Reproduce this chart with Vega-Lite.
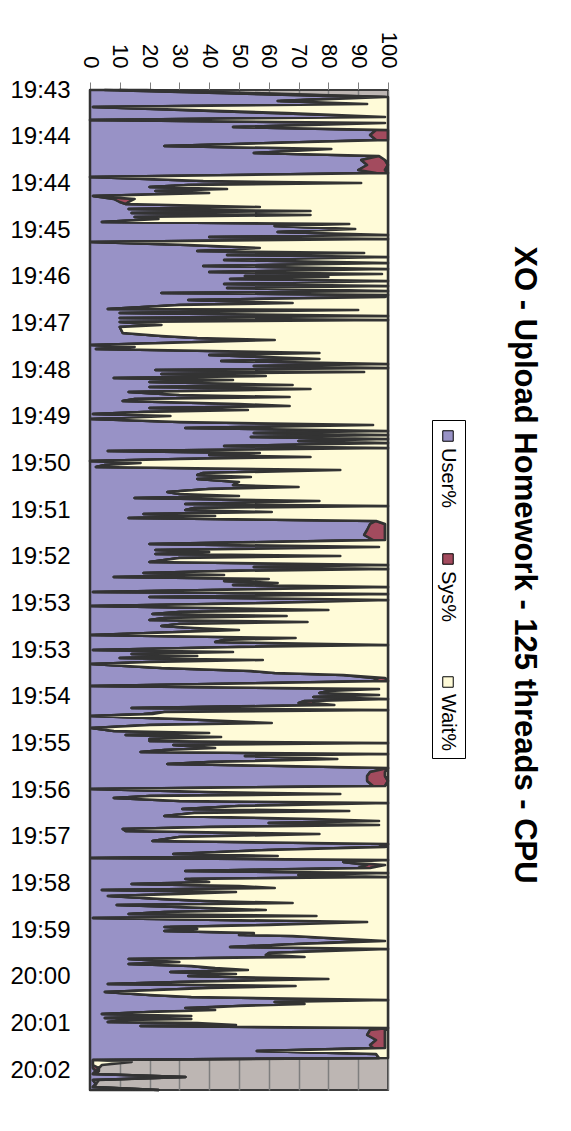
{
  "$schema": "https://vega.github.io/schema/vega-lite/v6.json",
  "width": 298,
  "height": 1000,
  "autosize": {"type": "none"},
  "padding": {"left": 90, "top": 90, "right": 183, "bottom": 41},
  "background": "white",
  "title": {
    "text": "XO - Upload Homework - 125 threads - CPU",
    "orient": "right",
    "angle": 90,
    "anchor": "middle",
    "font": "Liberation Sans",
    "fontSize": 31,
    "fontWeight": "bold",
    "color": "black",
    "offset": 42,
    "dx": -25
  },
  "datasets": {
    "series": [
      {"metric": "User%", "rank": 0},
      {"metric": "Sys%", "rank": 1},
      {"metric": "Wait%", "rank": 2}
    ]
  },
  "data": {
    "values": [
      {"t": 0, "User%": 5, "Sys%": 5, "Wait%": 9},
      {"t": 7, "User%": 93, "Sys%": 6, "Wait%": 1},
      {"t": 11, "User%": 63, "Sys%": 1, "Wait%": 36},
      {"t": 14, "User%": 92, "Sys%": 1, "Wait%": 7},
      {"t": 17, "User%": 1, "Sys%": 0, "Wait%": 99},
      {"t": 23, "User%": 61, "Sys%": 5, "Wait%": 34},
      {"t": 27, "User%": 99, "Sys%": 0, "Wait%": 1},
      {"t": 30, "User%": 0, "Sys%": 0, "Wait%": 100},
      {"t": 33, "User%": 99, "Sys%": 0, "Wait%": 1},
      {"t": 37, "User%": 48, "Sys%": 0, "Wait%": 52},
      {"t": 40, "User%": 96, "Sys%": 4, "Wait%": 0},
      {"t": 45, "User%": 94, "Sys%": 6, "Wait%": 0},
      {"t": 50, "User%": 96, "Sys%": 4, "Wait%": 0},
      {"t": 52, "User%": 73, "Sys%": 0, "Wait%": 27},
      {"t": 56, "User%": 25, "Sys%": 0, "Wait%": 75},
      {"t": 59, "User%": 81, "Sys%": 0, "Wait%": 19},
      {"t": 63, "User%": 55, "Sys%": 0, "Wait%": 45},
      {"t": 66, "User%": 97, "Sys%": 0, "Wait%": 3},
      {"t": 70, "User%": 91, "Sys%": 8, "Wait%": 1},
      {"t": 75, "User%": 93, "Sys%": 7, "Wait%": 0},
      {"t": 80, "User%": 90, "Sys%": 9, "Wait%": 1},
      {"t": 83, "User%": 96, "Sys%": 4, "Wait%": 0},
      {"t": 87, "User%": 0, "Sys%": 0, "Wait%": 100},
      {"t": 91, "User%": 38, "Sys%": 0, "Wait%": 62},
      {"t": 93, "User%": 91, "Sys%": 0, "Wait%": 9},
      {"t": 95, "User%": 33, "Sys%": 0, "Wait%": 67},
      {"t": 97, "User%": 20, "Sys%": 0, "Wait%": 80},
      {"t": 99, "User%": 46, "Sys%": 0, "Wait%": 54},
      {"t": 101, "User%": 22, "Sys%": 0, "Wait%": 78},
      {"t": 103, "User%": 40, "Sys%": 0, "Wait%": 60},
      {"t": 106, "User%": 1, "Sys%": 0, "Wait%": 99},
      {"t": 109, "User%": 8, "Sys%": 7, "Wait%": 85},
      {"t": 112, "User%": 10, "Sys%": 3, "Wait%": 87},
      {"t": 114, "User%": 12, "Sys%": 0, "Wait%": 88},
      {"t": 117, "User%": 57, "Sys%": 0, "Wait%": 43},
      {"t": 119, "User%": 13, "Sys%": 0, "Wait%": 87},
      {"t": 121, "User%": 74, "Sys%": 0, "Wait%": 26},
      {"t": 123, "User%": 14, "Sys%": 0, "Wait%": 86},
      {"t": 125, "User%": 74, "Sys%": 0, "Wait%": 26},
      {"t": 127, "User%": 15, "Sys%": 0, "Wait%": 85},
      {"t": 129, "User%": 23, "Sys%": 0, "Wait%": 77},
      {"t": 132, "User%": 4, "Sys%": 0, "Wait%": 96},
      {"t": 134, "User%": 87, "Sys%": 0, "Wait%": 13},
      {"t": 136, "User%": 62, "Sys%": 0, "Wait%": 38},
      {"t": 139, "User%": 87, "Sys%": 2, "Wait%": 11},
      {"t": 142, "User%": 63, "Sys%": 0, "Wait%": 37},
      {"t": 145, "User%": 100, "Sys%": 0, "Wait%": 0},
      {"t": 147, "User%": 40, "Sys%": 0, "Wait%": 60},
      {"t": 149, "User%": 100, "Sys%": 0, "Wait%": 0},
      {"t": 152, "User%": 0.5, "Sys%": 0, "Wait%": 99.5},
      {"t": 155, "User%": 33, "Sys%": 0, "Wait%": 67},
      {"t": 158, "User%": 57, "Sys%": 0, "Wait%": 43},
      {"t": 161, "User%": 36, "Sys%": 0, "Wait%": 64},
      {"t": 163, "User%": 86, "Sys%": 6, "Wait%": 8},
      {"t": 165, "User%": 46, "Sys%": 0, "Wait%": 54},
      {"t": 167, "User%": 98, "Sys%": 2, "Wait%": 0},
      {"t": 170, "User%": 45, "Sys%": 0, "Wait%": 55},
      {"t": 173, "User%": 100, "Sys%": 0, "Wait%": 0},
      {"t": 176, "User%": 38, "Sys%": 0, "Wait%": 62},
      {"t": 179, "User%": 100, "Sys%": 0, "Wait%": 0},
      {"t": 182, "User%": 40, "Sys%": 0, "Wait%": 60},
      {"t": 184, "User%": 98, "Sys%": 0, "Wait%": 2},
      {"t": 186, "User%": 52, "Sys%": 0, "Wait%": 48},
      {"t": 187, "User%": 80, "Sys%": 0, "Wait%": 20},
      {"t": 189, "User%": 47, "Sys%": 0, "Wait%": 53},
      {"t": 191, "User%": 100, "Sys%": 0, "Wait%": 0},
      {"t": 194, "User%": 45, "Sys%": 0, "Wait%": 55},
      {"t": 196, "User%": 100, "Sys%": 0, "Wait%": 0},
      {"t": 198, "User%": 46, "Sys%": 0, "Wait%": 54},
      {"t": 201, "User%": 100, "Sys%": 0, "Wait%": 0},
      {"t": 203, "User%": 24, "Sys%": 0, "Wait%": 76},
      {"t": 205, "User%": 100, "Sys%": 0, "Wait%": 0},
      {"t": 207, "User%": 95, "Sys%": 4, "Wait%": 1},
      {"t": 210, "User%": 33, "Sys%": 0, "Wait%": 67},
      {"t": 213, "User%": 68, "Sys%": 0, "Wait%": 32},
      {"t": 215, "User%": 30, "Sys%": 0, "Wait%": 70},
      {"t": 219, "User%": 6, "Sys%": 0, "Wait%": 94},
      {"t": 220, "User%": 90, "Sys%": 0, "Wait%": 10},
      {"t": 223, "User%": 10, "Sys%": 0, "Wait%": 90},
      {"t": 226, "User%": 100, "Sys%": 0, "Wait%": 0},
      {"t": 228, "User%": 10, "Sys%": 0, "Wait%": 90},
      {"t": 230, "User%": 100, "Sys%": 0, "Wait%": 0},
      {"t": 232, "User%": 10, "Sys%": 0, "Wait%": 90},
      {"t": 235, "User%": 24, "Sys%": 0, "Wait%": 76},
      {"t": 237, "User%": 10, "Sys%": 0, "Wait%": 90},
      {"t": 243, "User%": 11, "Sys%": 0, "Wait%": 89},
      {"t": 246, "User%": 24, "Sys%": 0, "Wait%": 76},
      {"t": 248, "User%": 36, "Sys%": 0, "Wait%": 64},
      {"t": 250, "User%": 62, "Sys%": 0, "Wait%": 38},
      {"t": 252, "User%": 37, "Sys%": 0, "Wait%": 63},
      {"t": 255, "User%": 0.5, "Sys%": 0, "Wait%": 99.5},
      {"t": 257, "User%": 15, "Sys%": 0, "Wait%": 85},
      {"t": 259, "User%": 2, "Sys%": 0, "Wait%": 98},
      {"t": 263, "User%": 77, "Sys%": 0, "Wait%": 23},
      {"t": 265, "User%": 40, "Sys%": 0, "Wait%": 60},
      {"t": 269, "User%": 77, "Sys%": 0, "Wait%": 23},
      {"t": 271, "User%": 44, "Sys%": 0, "Wait%": 56},
      {"t": 274, "User%": 100, "Sys%": 0, "Wait%": 0},
      {"t": 276, "User%": 55, "Sys%": 0, "Wait%": 45},
      {"t": 278, "User%": 100, "Sys%": 0, "Wait%": 0},
      {"t": 280, "User%": 22, "Sys%": 0, "Wait%": 78},
      {"t": 282, "User%": 92, "Sys%": 0, "Wait%": 8},
      {"t": 284, "User%": 24, "Sys%": 0, "Wait%": 76},
      {"t": 286, "User%": 59, "Sys%": 0, "Wait%": 41},
      {"t": 288, "User%": 8, "Sys%": 0, "Wait%": 92},
      {"t": 290, "User%": 48, "Sys%": 0, "Wait%": 52},
      {"t": 292, "User%": 20, "Sys%": 0, "Wait%": 80},
      {"t": 295, "User%": 68, "Sys%": 0, "Wait%": 32},
      {"t": 297, "User%": 20, "Sys%": 0, "Wait%": 80},
      {"t": 299, "User%": 74, "Sys%": 0, "Wait%": 26},
      {"t": 302, "User%": 13, "Sys%": 0, "Wait%": 87},
      {"t": 305, "User%": 30, "Sys%": 0, "Wait%": 70},
      {"t": 307, "User%": 67, "Sys%": 0, "Wait%": 33},
      {"t": 309, "User%": 15, "Sys%": 0, "Wait%": 85},
      {"t": 311, "User%": 11, "Sys%": 0, "Wait%": 89},
      {"t": 314, "User%": 50, "Sys%": 0, "Wait%": 50},
      {"t": 316, "User%": 67, "Sys%": 0, "Wait%": 33},
      {"t": 318, "User%": 20, "Sys%": 0, "Wait%": 80},
      {"t": 320, "User%": 53, "Sys%": 0, "Wait%": 47},
      {"t": 322, "User%": 18, "Sys%": 0, "Wait%": 82},
      {"t": 324, "User%": 1, "Sys%": 0, "Wait%": 99},
      {"t": 326, "User%": 27, "Sys%": 0, "Wait%": 73},
      {"t": 329, "User%": 0.5, "Sys%": 0, "Wait%": 99.5},
      {"t": 332, "User%": 30, "Sys%": 0, "Wait%": 70},
      {"t": 335, "User%": 95, "Sys%": 0, "Wait%": 5},
      {"t": 338, "User%": 32, "Sys%": 0, "Wait%": 68},
      {"t": 341, "User%": 100, "Sys%": 0, "Wait%": 0},
      {"t": 343, "User%": 55, "Sys%": 0, "Wait%": 45},
      {"t": 345, "User%": 100, "Sys%": 0, "Wait%": 0},
      {"t": 347, "User%": 54, "Sys%": 0, "Wait%": 46},
      {"t": 349, "User%": 100, "Sys%": 0, "Wait%": 0},
      {"t": 351, "User%": 70, "Sys%": 0, "Wait%": 30},
      {"t": 353, "User%": 100, "Sys%": 0, "Wait%": 0},
      {"t": 356, "User%": 45, "Sys%": 0, "Wait%": 55},
      {"t": 358, "User%": 100, "Sys%": 0, "Wait%": 0},
      {"t": 361, "User%": 6, "Sys%": 0, "Wait%": 94},
      {"t": 363, "User%": 57, "Sys%": 0, "Wait%": 43},
      {"t": 365, "User%": 40, "Sys%": 0, "Wait%": 60},
      {"t": 367, "User%": 74, "Sys%": 0, "Wait%": 26},
      {"t": 369, "User%": 30, "Sys%": 0, "Wait%": 70},
      {"t": 371, "User%": 0, "Sys%": 0, "Wait%": 100},
      {"t": 373, "User%": 17, "Sys%": 0, "Wait%": 83},
      {"t": 375, "User%": 5, "Sys%": 0, "Wait%": 95},
      {"t": 377, "User%": 2, "Sys%": 0, "Wait%": 98},
      {"t": 380, "User%": 84, "Sys%": 0, "Wait%": 16},
      {"t": 383, "User%": 38, "Sys%": 0, "Wait%": 62},
      {"t": 385, "User%": 36, "Sys%": 0, "Wait%": 64},
      {"t": 387, "User%": 54, "Sys%": 0, "Wait%": 46},
      {"t": 389, "User%": 36, "Sys%": 0, "Wait%": 64},
      {"t": 392, "User%": 50, "Sys%": 0, "Wait%": 50},
      {"t": 395, "User%": 48, "Sys%": 0, "Wait%": 52},
      {"t": 397, "User%": 70, "Sys%": 0, "Wait%": 30},
      {"t": 399, "User%": 40, "Sys%": 0, "Wait%": 60},
      {"t": 402, "User%": 26, "Sys%": 0, "Wait%": 74},
      {"t": 404, "User%": 30, "Sys%": 0, "Wait%": 70},
      {"t": 406, "User%": 50, "Sys%": 0, "Wait%": 50},
      {"t": 408, "User%": 15, "Sys%": 0, "Wait%": 85},
      {"t": 411, "User%": 77, "Sys%": 0, "Wait%": 23},
      {"t": 414, "User%": 32, "Sys%": 0, "Wait%": 68},
      {"t": 416, "User%": 100, "Sys%": 0, "Wait%": 0},
      {"t": 418, "User%": 35, "Sys%": 0, "Wait%": 65},
      {"t": 420, "User%": 32, "Sys%": 0, "Wait%": 68},
      {"t": 422, "User%": 61, "Sys%": 0, "Wait%": 39},
      {"t": 424, "User%": 18, "Sys%": 0, "Wait%": 82},
      {"t": 426, "User%": 42, "Sys%": 0, "Wait%": 58},
      {"t": 428, "User%": 13, "Sys%": 0, "Wait%": 87},
      {"t": 431, "User%": 96, "Sys%": 0, "Wait%": 4},
      {"t": 434, "User%": 94, "Sys%": 5, "Wait%": 1},
      {"t": 440, "User%": 93, "Sys%": 6, "Wait%": 1},
      {"t": 445, "User%": 92, "Sys%": 7, "Wait%": 1},
      {"t": 450, "User%": 95, "Sys%": 4, "Wait%": 1},
      {"t": 454, "User%": 20, "Sys%": 0, "Wait%": 80},
      {"t": 457, "User%": 97, "Sys%": 0, "Wait%": 3},
      {"t": 460, "User%": 22, "Sys%": 0, "Wait%": 78},
      {"t": 462, "User%": 40, "Sys%": 0, "Wait%": 60},
      {"t": 464, "User%": 22, "Sys%": 0, "Wait%": 78},
      {"t": 466, "User%": 84, "Sys%": 0, "Wait%": 16},
      {"t": 468, "User%": 30, "Sys%": 0, "Wait%": 70},
      {"t": 472, "User%": 20, "Sys%": 0, "Wait%": 80},
      {"t": 475, "User%": 100, "Sys%": 0, "Wait%": 0},
      {"t": 477, "User%": 55, "Sys%": 0, "Wait%": 45},
      {"t": 479, "User%": 100, "Sys%": 0, "Wait%": 0},
      {"t": 481, "User%": 45, "Sys%": 0, "Wait%": 55},
      {"t": 483, "User%": 18, "Sys%": 0, "Wait%": 82},
      {"t": 485, "User%": 45, "Sys%": 0, "Wait%": 55},
      {"t": 487, "User%": 8, "Sys%": 0, "Wait%": 92},
      {"t": 489, "User%": 60, "Sys%": 0, "Wait%": 40},
      {"t": 491, "User%": 45, "Sys%": 0, "Wait%": 55},
      {"t": 493, "User%": 63, "Sys%": 0, "Wait%": 37},
      {"t": 495, "User%": 48, "Sys%": 0, "Wait%": 52},
      {"t": 497, "User%": 100, "Sys%": 0, "Wait%": 0},
      {"t": 499, "User%": 60, "Sys%": 0, "Wait%": 40},
      {"t": 502, "User%": 1, "Sys%": 0, "Wait%": 99},
      {"t": 504, "User%": 100, "Sys%": 0, "Wait%": 0},
      {"t": 507, "User%": 20, "Sys%": 0, "Wait%": 80},
      {"t": 510, "User%": 100, "Sys%": 0, "Wait%": 0},
      {"t": 513, "User%": 60, "Sys%": 0, "Wait%": 40},
      {"t": 516, "User%": 0.5, "Sys%": 0, "Wait%": 99.5},
      {"t": 520, "User%": 80, "Sys%": 0, "Wait%": 20},
      {"t": 522, "User%": 30, "Sys%": 0, "Wait%": 70},
      {"t": 524, "User%": 21, "Sys%": 0, "Wait%": 79},
      {"t": 526, "User%": 66, "Sys%": 0, "Wait%": 34},
      {"t": 528, "User%": 25, "Sys%": 0, "Wait%": 75},
      {"t": 530, "User%": 20, "Sys%": 0, "Wait%": 80},
      {"t": 532, "User%": 73, "Sys%": 0, "Wait%": 27},
      {"t": 534, "User%": 30, "Sys%": 0, "Wait%": 70},
      {"t": 536, "User%": 24, "Sys%": 0, "Wait%": 76},
      {"t": 538, "User%": 35, "Sys%": 0, "Wait%": 65},
      {"t": 540, "User%": 50, "Sys%": 0, "Wait%": 50},
      {"t": 542, "User%": 30, "Sys%": 0, "Wait%": 70},
      {"t": 545, "User%": 0.5, "Sys%": 0, "Wait%": 99.5},
      {"t": 548, "User%": 69, "Sys%": 0, "Wait%": 31},
      {"t": 550, "User%": 45, "Sys%": 0, "Wait%": 55},
      {"t": 552, "User%": 42, "Sys%": 0, "Wait%": 58},
      {"t": 555, "User%": 100, "Sys%": 0, "Wait%": 0},
      {"t": 557, "User%": 50, "Sys%": 0, "Wait%": 50},
      {"t": 560, "User%": 1, "Sys%": 0, "Wait%": 99},
      {"t": 562, "User%": 48, "Sys%": 0, "Wait%": 52},
      {"t": 564, "User%": 14, "Sys%": 0, "Wait%": 86},
      {"t": 566, "User%": 36, "Sys%": 0, "Wait%": 64},
      {"t": 568, "User%": 10, "Sys%": 0, "Wait%": 90},
      {"t": 570, "User%": 58, "Sys%": 0, "Wait%": 42},
      {"t": 572, "User%": 20, "Sys%": 0, "Wait%": 80},
      {"t": 574, "User%": 0.5, "Sys%": 0, "Wait%": 99.5},
      {"t": 576, "User%": 12, "Sys%": 0, "Wait%": 88},
      {"t": 578, "User%": 24, "Sys%": 0, "Wait%": 76},
      {"t": 581, "User%": 54, "Sys%": 0, "Wait%": 46},
      {"t": 583, "User%": 62, "Sys%": 0, "Wait%": 38},
      {"t": 585, "User%": 85, "Sys%": 0, "Wait%": 15},
      {"t": 588, "User%": 95, "Sys%": 4, "Wait%": 1},
      {"t": 591, "User%": 97, "Sys%": 3, "Wait%": 0},
      {"t": 596, "User%": 0.5, "Sys%": 0, "Wait%": 99.5},
      {"t": 599, "User%": 97, "Sys%": 0, "Wait%": 3},
      {"t": 601, "User%": 80, "Sys%": 0, "Wait%": 20},
      {"t": 603, "User%": 77, "Sys%": 0, "Wait%": 23},
      {"t": 605, "User%": 97, "Sys%": 0, "Wait%": 3},
      {"t": 607, "User%": 75, "Sys%": 0, "Wait%": 25},
      {"t": 609, "User%": 100, "Sys%": 0, "Wait%": 0},
      {"t": 611, "User%": 72, "Sys%": 3, "Wait%": 25},
      {"t": 613, "User%": 70, "Sys%": 5, "Wait%": 25},
      {"t": 615, "User%": 80, "Sys%": 2, "Wait%": 18},
      {"t": 618, "User%": 14, "Sys%": 0, "Wait%": 86},
      {"t": 620, "User%": 100, "Sys%": 0, "Wait%": 0},
      {"t": 622, "User%": 25, "Sys%": 0, "Wait%": 75},
      {"t": 624, "User%": 18, "Sys%": 3, "Wait%": 79},
      {"t": 626, "User%": 0.5, "Sys%": 0, "Wait%": 99.5},
      {"t": 629, "User%": 30, "Sys%": 0, "Wait%": 70},
      {"t": 633, "User%": 61, "Sys%": 0, "Wait%": 39},
      {"t": 635, "User%": 20, "Sys%": 0, "Wait%": 80},
      {"t": 638, "User%": 0.5, "Sys%": 0, "Wait%": 99.5},
      {"t": 641, "User%": 8, "Sys%": 0, "Wait%": 92},
      {"t": 643, "User%": 40, "Sys%": 0, "Wait%": 60},
      {"t": 645, "User%": 12, "Sys%": 0, "Wait%": 88},
      {"t": 647, "User%": 44, "Sys%": 0, "Wait%": 56},
      {"t": 649, "User%": 20, "Sys%": 0, "Wait%": 80},
      {"t": 651, "User%": 20, "Sys%": 0, "Wait%": 80},
      {"t": 653, "User%": 100, "Sys%": 0, "Wait%": 0},
      {"t": 655, "User%": 28, "Sys%": 0, "Wait%": 72},
      {"t": 658, "User%": 42, "Sys%": 0, "Wait%": 58},
      {"t": 660, "User%": 25, "Sys%": 0, "Wait%": 75},
      {"t": 662, "User%": 17, "Sys%": 0, "Wait%": 83},
      {"t": 664, "User%": 100, "Sys%": 0, "Wait%": 0},
      {"t": 666, "User%": 52, "Sys%": 0, "Wait%": 48},
      {"t": 669, "User%": 83, "Sys%": 0, "Wait%": 17},
      {"t": 672, "User%": 40, "Sys%": 0, "Wait%": 60},
      {"t": 674, "User%": 26, "Sys%": 0, "Wait%": 74},
      {"t": 676, "User%": 65, "Sys%": 0, "Wait%": 35},
      {"t": 678, "User%": 100, "Sys%": 0, "Wait%": 0},
      {"t": 682, "User%": 94, "Sys%": 5, "Wait%": 1},
      {"t": 686, "User%": 93, "Sys%": 6, "Wait%": 1},
      {"t": 691, "User%": 93, "Sys%": 7, "Wait%": 0},
      {"t": 696, "User%": 95, "Sys%": 4, "Wait%": 1},
      {"t": 699, "User%": 0.5, "Sys%": 0, "Wait%": 99.5},
      {"t": 702, "User%": 40, "Sys%": 0, "Wait%": 60},
      {"t": 704, "User%": 84, "Sys%": 0, "Wait%": 16},
      {"t": 706, "User%": 20, "Sys%": 0, "Wait%": 80},
      {"t": 708, "User%": 8, "Sys%": 0, "Wait%": 92},
      {"t": 711, "User%": 30, "Sys%": 0, "Wait%": 70},
      {"t": 713, "User%": 100, "Sys%": 0, "Wait%": 0},
      {"t": 716, "User%": 50, "Sys%": 0, "Wait%": 50},
      {"t": 719, "User%": 31, "Sys%": 0, "Wait%": 69},
      {"t": 721, "User%": 87, "Sys%": 0, "Wait%": 13},
      {"t": 723, "User%": 35, "Sys%": 0, "Wait%": 65},
      {"t": 726, "User%": 25, "Sys%": 0, "Wait%": 75},
      {"t": 729, "User%": 75, "Sys%": 0, "Wait%": 25},
      {"t": 731, "User%": 97, "Sys%": 0, "Wait%": 3},
      {"t": 733, "User%": 60, "Sys%": 0, "Wait%": 40},
      {"t": 735, "User%": 97, "Sys%": 0, "Wait%": 3},
      {"t": 737, "User%": 40, "Sys%": 0, "Wait%": 60},
      {"t": 739, "User%": 11, "Sys%": 0, "Wait%": 89},
      {"t": 741, "User%": 12, "Sys%": 0, "Wait%": 88},
      {"t": 744, "User%": 77, "Sys%": 0, "Wait%": 23},
      {"t": 747, "User%": 30, "Sys%": 0, "Wait%": 70},
      {"t": 751, "User%": 21, "Sys%": 0, "Wait%": 79},
      {"t": 754, "User%": 100, "Sys%": 0, "Wait%": 0},
      {"t": 757, "User%": 97, "Sys%": 2, "Wait%": 1},
      {"t": 760, "User%": 60, "Sys%": 0, "Wait%": 40},
      {"t": 764, "User%": 28, "Sys%": 0, "Wait%": 72},
      {"t": 766, "User%": 63, "Sys%": 0, "Wait%": 37},
      {"t": 768, "User%": 0.5, "Sys%": 0, "Wait%": 99.5},
      {"t": 770, "User%": 100, "Sys%": 0, "Wait%": 0},
      {"t": 772, "User%": 85, "Sys%": 0, "Wait%": 15},
      {"t": 775, "User%": 93, "Sys%": 6, "Wait%": 1},
      {"t": 778, "User%": 90, "Sys%": 4, "Wait%": 6},
      {"t": 781, "User%": 32, "Sys%": 0, "Wait%": 68},
      {"t": 783, "User%": 100, "Sys%": 0, "Wait%": 0},
      {"t": 785, "User%": 70, "Sys%": 0, "Wait%": 30},
      {"t": 787, "User%": 100, "Sys%": 0, "Wait%": 0},
      {"t": 789, "User%": 32, "Sys%": 2, "Wait%": 66},
      {"t": 792, "User%": 40, "Sys%": 0, "Wait%": 60},
      {"t": 794, "User%": 14, "Sys%": 0, "Wait%": 86},
      {"t": 796, "User%": 50, "Sys%": 0, "Wait%": 50},
      {"t": 798, "User%": 62, "Sys%": 0, "Wait%": 38},
      {"t": 800, "User%": 4, "Sys%": 0, "Wait%": 96},
      {"t": 802, "User%": 49, "Sys%": 0, "Wait%": 51},
      {"t": 804, "User%": 30, "Sys%": 0, "Wait%": 70},
      {"t": 806, "User%": 6, "Sys%": 1, "Wait%": 93},
      {"t": 809, "User%": 24, "Sys%": 0, "Wait%": 76},
      {"t": 811, "User%": 39, "Sys%": 0, "Wait%": 61},
      {"t": 813, "User%": 68, "Sys%": 0, "Wait%": 32},
      {"t": 815, "User%": 9, "Sys%": 0, "Wait%": 91},
      {"t": 817, "User%": 30, "Sys%": 0, "Wait%": 70},
      {"t": 820, "User%": 59, "Sys%": 0, "Wait%": 41},
      {"t": 822, "User%": 25, "Sys%": 0, "Wait%": 75},
      {"t": 824, "User%": 13, "Sys%": 0, "Wait%": 87},
      {"t": 826, "User%": 76, "Sys%": 0, "Wait%": 24},
      {"t": 828, "User%": 1, "Sys%": 0, "Wait%": 99},
      {"t": 832, "User%": 93, "Sys%": 0, "Wait%": 7},
      {"t": 835, "User%": 60, "Sys%": 0, "Wait%": 40},
      {"t": 837, "User%": 25, "Sys%": 2, "Wait%": 73},
      {"t": 839, "User%": 36, "Sys%": 0, "Wait%": 64},
      {"t": 841, "User%": 25, "Sys%": 0, "Wait%": 75},
      {"t": 843, "User%": 55, "Sys%": 0, "Wait%": 45},
      {"t": 845, "User%": 50, "Sys%": 2, "Wait%": 48},
      {"t": 846, "User%": 68, "Sys%": 0, "Wait%": 32},
      {"t": 848, "User%": 80, "Sys%": 0, "Wait%": 20},
      {"t": 851, "User%": 95, "Sys%": 4, "Wait%": 1},
      {"t": 854, "User%": 70, "Sys%": 0, "Wait%": 30},
      {"t": 857, "User%": 47, "Sys%": 0, "Wait%": 53},
      {"t": 859, "User%": 100, "Sys%": 0, "Wait%": 0},
      {"t": 861, "User%": 80, "Sys%": 0, "Wait%": 20},
      {"t": 863, "User%": 60, "Sys%": 0, "Wait%": 40},
      {"t": 865, "User%": 59, "Sys%": 2, "Wait%": 39},
      {"t": 867, "User%": 72, "Sys%": 0, "Wait%": 28},
      {"t": 869, "User%": 13, "Sys%": 0, "Wait%": 87},
      {"t": 872, "User%": 30, "Sys%": 0, "Wait%": 70},
      {"t": 874, "User%": 13, "Sys%": 0, "Wait%": 87},
      {"t": 876, "User%": 34, "Sys%": 0, "Wait%": 66},
      {"t": 878, "User%": 40, "Sys%": 2, "Wait%": 58},
      {"t": 880, "User%": 53, "Sys%": 0, "Wait%": 47},
      {"t": 882, "User%": 27, "Sys%": 0, "Wait%": 73},
      {"t": 884, "User%": 49, "Sys%": 0, "Wait%": 51},
      {"t": 886, "User%": 33, "Sys%": 0, "Wait%": 67},
      {"t": 889, "User%": 80, "Sys%": 0, "Wait%": 20},
      {"t": 892, "User%": 30, "Sys%": 0, "Wait%": 70},
      {"t": 894, "User%": 6, "Sys%": 0, "Wait%": 94},
      {"t": 896, "User%": 69, "Sys%": 0, "Wait%": 31},
      {"t": 898, "User%": 40, "Sys%": 0, "Wait%": 60},
      {"t": 902, "User%": 5, "Sys%": 0, "Wait%": 95},
      {"t": 905, "User%": 20, "Sys%": 0, "Wait%": 80},
      {"t": 907, "User%": 34, "Sys%": 0, "Wait%": 66},
      {"t": 910, "User%": 100, "Sys%": 0, "Wait%": 0},
      {"t": 912, "User%": 62, "Sys%": 0, "Wait%": 38},
      {"t": 914, "User%": 72, "Sys%": 0, "Wait%": 28},
      {"t": 916, "User%": 50, "Sys%": 0, "Wait%": 50},
      {"t": 918, "User%": 32, "Sys%": 4, "Wait%": 64},
      {"t": 920, "User%": 42, "Sys%": 0, "Wait%": 58},
      {"t": 922, "User%": 20, "Sys%": 0, "Wait%": 80},
      {"t": 924, "User%": 4, "Sys%": 0, "Wait%": 96},
      {"t": 926, "User%": 34, "Sys%": 0, "Wait%": 66},
      {"t": 928, "User%": 5, "Sys%": 0, "Wait%": 95},
      {"t": 929, "User%": 34, "Sys%": 0, "Wait%": 66},
      {"t": 930, "User%": 12, "Sys%": 0, "Wait%": 88},
      {"t": 932, "User%": 6, "Sys%": 0, "Wait%": 94},
      {"t": 933, "User%": 36, "Sys%": 0, "Wait%": 64},
      {"t": 935, "User%": 49, "Sys%": 0, "Wait%": 51},
      {"t": 936, "User%": 17, "Sys%": 0, "Wait%": 83},
      {"t": 938, "User%": 100, "Sys%": 0, "Wait%": 0},
      {"t": 940, "User%": 94, "Sys%": 5, "Wait%": 1},
      {"t": 945, "User%": 93, "Sys%": 6, "Wait%": 1},
      {"t": 950, "User%": 96, "Sys%": 3, "Wait%": 1},
      {"t": 955, "User%": 94, "Sys%": 5, "Wait%": 1},
      {"t": 958, "User%": 95, "Sys%": 4, "Wait%": 1},
      {"t": 961, "User%": 56, "Sys%": 0, "Wait%": 44},
      {"t": 964, "User%": 96, "Sys%": 0, "Wait%": 4},
      {"t": 968, "User%": 97, "Sys%": 0, "Wait%": 3},
      {"t": 970, "User%": 1, "Sys%": 0, "Wait%": 0},
      {"t": 972, "User%": 1, "Sys%": 0, "Wait%": 13},
      {"t": 975, "User%": 1, "Sys%": 0, "Wait%": 3},
      {"t": 978, "User%": 1, "Sys%": 2, "Wait%": 0},
      {"t": 981, "User%": 2, "Sys%": 0, "Wait%": 1},
      {"t": 984, "User%": 1, "Sys%": 0, "Wait%": 1},
      {"t": 987, "User%": 32, "Sys%": 0, "Wait%": 0},
      {"t": 990, "User%": 1, "Sys%": 0, "Wait%": 2},
      {"t": 994, "User%": 2, "Sys%": 0, "Wait%": 0},
      {"t": 997, "User%": 1, "Sys%": 0, "Wait%": 0},
      {"t": 1000, "User%": 23, "Sys%": 0, "Wait%": 0}
    ]
  },
  "transform": [
    {"fold": ["User%", "Sys%", "Wait%"], "as": ["metric", "pct"]},
    {"lookup": "metric", "from": {"data": {"name": "series"}, "key": "metric", "fields": ["rank"]}}
  ],
  "mark": {
    "type": "area",
    "orient": "horizontal",
    "stroke": "#333333",
    "strokeWidth": 2.5,
    "strokeJoin": "round"
  },
  "encoding": {
    "y": {
      "field": "t",
      "type": "quantitative",
      "scale": {"domain": [0, 1000], "reverse": true, "nice": false, "zero": false},
      "axis": {
        "orient": "left",
        "title": null,
        "values": [0, 46.67, 93.33, 140, 186.67, 233.33, 280, 326.67, 373.33, 420, 466.67, 513.33, 560, 606.67, 653.33, 700, 746.67, 793.33, 840, 886.67, 933.33, 980],
        "labelExpr": "['19:43','19:44','19:44','19:45','19:46','19:47','19:48','19:49','19:50','19:51','19:52','19:53','19:53','19:54','19:55','19:56','19:57','19:58','19:59','20:00','20:01','20:02'][round(datum.value / 46.667)]",
        "ticks": false,
        "domain": false,
        "grid": false,
        "labelFont": "Liberation Sans",
        "labelFontSize": 24,
        "labelColor": "black",
        "labelPadding": 20,
        "labelFlush": false,
        "labelOverlap": false
      }
    },
    "x": {
      "field": "pct",
      "type": "quantitative",
      "stack": "zero",
      "scale": {"domain": [0, 100], "nice": false},
      "axis": {
        "orient": "top",
        "title": null,
        "values": [0, 10, 20, 30, 40, 50, 60, 70, 80, 90, 100],
        "labelAngle": 90,
        "labelAlign": "right",
        "labelBaseline": "middle",
        "labelFont": "Liberation Sans",
        "labelFontSize": 22,
        "labelColor": "black",
        "labelPadding": 14,
        "labelFlush": false,
        "labelOverlap": false,
        "tickSize": 8,
        "tickColor": "#7F7F7F",
        "domainColor": "#3C3C3C",
        "grid": true,
        "gridColor": "#7F7F7F",
        "gridWidth": 1.5
      }
    },
    "order": {"field": "rank", "type": "quantitative", "sort": "ascending"},
    "color": {
      "field": "metric",
      "type": "nominal",
      "scale": {"domain": ["User%", "Sys%", "Wait%"], "range": ["#9892C6", "#A34B5E", "#FFFBD8"]},
      "legend": {
        "title": null,
        "orient": "none",
        "legendX": 342,
        "legendY": 330,
        "direction": "vertical",
        "gridAlign": "all",
        "symbolType": "square",
        "symbolSize": 110,
        "symbolStrokeColor": "#000000",
        "symbolStrokeWidth": 1,
        "labelFont": "Liberation Sans",
        "labelFontSize": 20,
        "labelColor": "black",
        "labelLimit": 0,
        "strokeColor": "#000000",
        "fillColor": "#ffffff",
        "padding": 6,
        "rowPadding": 40,
        "encoding": {
          "labels": {
            "angle": {"value": 90},
            "fontSize": {"value": 20},
            "font": {"value": "Liberation Sans"},
            "dx": {"value": 12},
            "dy": {"value": 14}
          }
        }
      }
    }
  },
  "config": {
    "view": {"stroke": "#3C3C3C", "strokeWidth": 2, "fill": "#BDB6B3"}
  }
}
